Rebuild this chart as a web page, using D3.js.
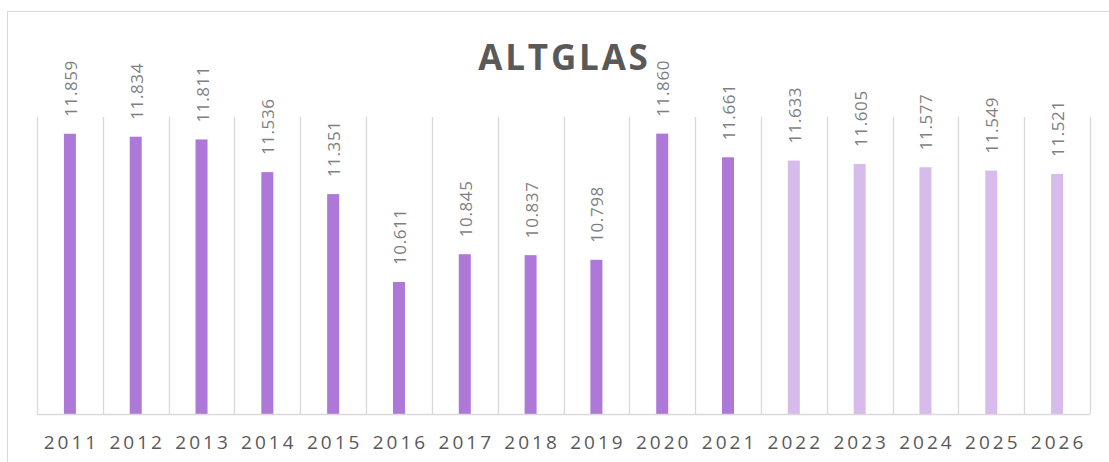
<!DOCTYPE html>
<html>
<head>
<meta charset="utf-8">
<script src="https://cdn.jsdelivr.net/npm/d3@7"></script>
<style>
  html, body { margin: 0; padding: 0; background: #fff; }
  svg { display: block; }
</style>
</head>
<body>
<svg id="chart" width="1109" height="462"></svg>
<script>
const title = "ALTGLAS";
const years = ["2011","2012","2013","2014","2015","2016","2017","2018","2019","2020","2021","2022","2023","2024","2025","2026"];
const values = [11.859, 11.834, 11.811, 11.536, 11.351, 10.611, 10.845, 10.837, 10.798, 11.860, 11.661, 11.633, 11.605, 11.577, 11.549, 11.521];
const labels = ["11.859","11.834","11.811","11.536","11.351","10.611","10.845","10.837","10.798","11.860","11.661","11.633","11.605","11.577","11.549","11.521"];
const forecastFrom = "2022";
const yDomain = [9.5, 12.0];

const svg = d3.select("#chart");
const W = 1109, H = 462;
const plot = { left: 37, right: 1090, top: 117, bottom: 414 };

// outer frame
svg.append("rect")
  .attr("x", 7.5).attr("y", 11.5)
  .attr("width", W + 20).attr("height", H + 20)
  .attr("fill", "#fff").attr("stroke", "#d9d9d9").attr("stroke-width", 1);

const x = d3.scaleBand().domain(years).range([plot.left, plot.right]).paddingInner(0).paddingOuter(0);
const y = d3.scaleLinear().domain(yDomain).range([plot.bottom, plot.top]);

// vertical gridlines at category boundaries
const bounds = years.map(d => x(d)).concat([x(years[years.length - 1]) + x.bandwidth()]);
svg.append("g").selectAll("line").data(bounds).join("line")
  .attr("x1", d => Math.round(d) + 0.5).attr("x2", d => Math.round(d) + 0.5)
  .attr("y1", plot.top).attr("y2", plot.bottom)
  .attr("stroke", "#d9d9d9").attr("stroke-width", 1.3);

// bars
const barW = 12;
const fIdx = years.indexOf(forecastFrom);
svg.append("g").selectAll("rect").data(values).join("rect")
  .attr("x", (d, i) => x(years[i]) + x.bandwidth() / 2 - barW / 2)
  .attr("y", d => y(d))
  .attr("width", barW)
  .attr("height", d => y(yDomain[0]) - y(d))
  .attr("fill", (d, i) => i >= fIdx ? "#d7bbea" : "#ad78d8");

// axis baseline
svg.append("line")
  .attr("x1", plot.left).attr("x2", plot.right)
  .attr("y1", plot.bottom + 0.5).attr("y2", plot.bottom + 0.5)
  .attr("stroke", "#d9d9d9").attr("stroke-width", 1.5);

// x axis labels
const xAxis = d3.axisBottom(x).tickSize(0).tickPadding(0);
const gx = svg.append("g").attr("transform", `translate(0,${plot.bottom})`).call(xAxis);
gx.select(".domain").remove();
gx.selectAll("text")
  .attr("y", 35).attr("dy", 0)
  .attr("x", 1.5)
  .attr("font-family", "'Open Sans', sans-serif")
  .attr("font-size", 19)
  .attr("letter-spacing", "3px")
  .attr("fill", "#595959");

// value labels (rotated)
svg.append("g").selectAll("text").data(values).join("text")
  .attr("transform", (d, i) => `translate(${x(years[i]) + x.bandwidth() / 2 + 7},${y(d) - 17}) rotate(-90)`)
  .attr("text-anchor", "start")
  .attr("font-family", "'Open Sans', sans-serif")
  .attr("font-size", 17)
  .attr("letter-spacing", "0.6px")
  .attr("fill", "#7f7f7f")
  .text((d, i) => labels[i]);

// title
svg.append("text")
  .attr("x", (plot.left + plot.right) / 2 + 1)
  .attr("y", 70)
  .attr("text-anchor", "middle")
  .attr("font-family", "'Open Sans', sans-serif")
  .attr("font-weight", "bold")
  .attr("font-size", 35)
  .attr("letter-spacing", "2.8px")
  .attr("fill", "#595959")
  .text(title);
</script>
</body>
</html>
